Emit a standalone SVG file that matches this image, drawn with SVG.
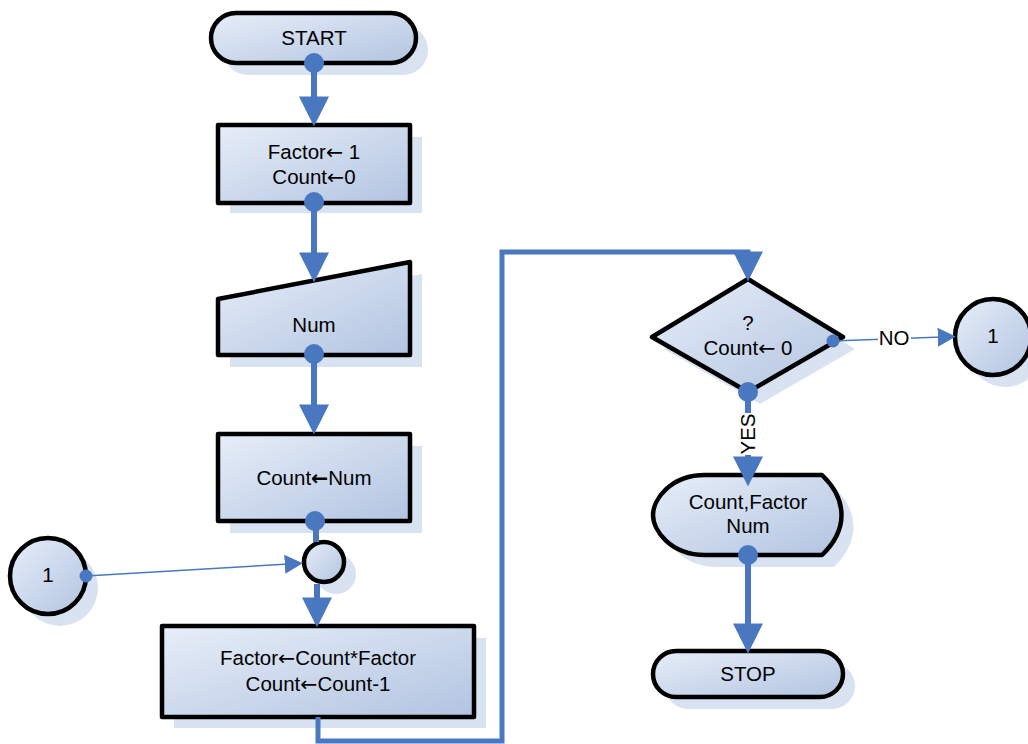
<svg xmlns="http://www.w3.org/2000/svg" width="1028" height="744" viewBox="0 0 1028 744">
<defs>
<linearGradient id="g" x1="0" y1="0" x2="1" y2="1">
<stop offset="0" stop-color="#e7eef8"/>
<stop offset="1" stop-color="#b2c4e1"/>
</linearGradient>
<marker id="ab" markerUnits="userSpaceOnUse" markerWidth="30" markerHeight="30" viewBox="0 0 28 28" refX="8" refY="14" orient="auto">
<path d="M0,0 L28,14 L0,28 Z" fill="#4a78c0"/>
</marker>
<marker id="at" markerUnits="userSpaceOnUse" markerWidth="18" markerHeight="20" viewBox="0 0 17 18" refX="4" refY="9" orient="auto">
<path d="M0,0 L17,9 L0,18 Z" fill="#4a78c0"/>
</marker>
<style>
.sh{fill:#d9e2f1}
.nd{fill:url(#g);stroke:#000;stroke-width:4.5;stroke-linejoin:round}
.t{font-family:"Liberation Sans","DejaVu Sans",Arial,sans-serif;font-size:20.5px;fill:#000;text-anchor:middle}
.ar{font-family:"DejaVu Sans",sans-serif}
.arb{font-family:"DejaVu Sans",sans-serif;font-weight:bold}
.c{fill:none;stroke:#4a78c0;stroke-width:6}
.cl{fill:none;stroke:#4a78c0;stroke-width:5}
.ct{fill:none;stroke:#4a78c0;stroke-width:1.5}
.dot{fill:#4a78c0}
</style>
</defs>

<g id="start">
<rect class="sh" x="223" y="25" width="205" height="50" rx="25"/>
<rect class="nd" x="211" y="13" width="205" height="50" rx="25"/>
<text class="t" x="314" y="45">START</text>
</g>

<g id="init">
<rect class="sh" x="230" y="137" width="192" height="76"/>
<rect class="nd" x="218" y="125" width="192" height="78"/>
<text class="t" x="314" y="159">Factor<tspan class="ar">←</tspan> 1</text>
<text class="t" x="314" y="184">Count<tspan class="ar">←</tspan>0</text>
</g>

<g id="input">
<polygon class="sh" points="230,311 422,274 422,367 230,367"/>
<polygon class="nd" points="218,299 410,262 410,355 218,355"/>
<text class="t" x="314" y="332">Num</text>
</g>

<g id="assign">
<rect class="sh" x="230" y="446" width="192" height="87"/>
<rect class="nd" x="218" y="434" width="192" height="87"/>
<text class="t" x="314" y="485">Count<tspan class="arb">←</tspan>Num</text>
</g>

<g id="join">
<circle class="sh" cx="336" cy="574" r="20"/>
<circle class="nd" cx="324" cy="562" r="20"/>
</g>

<g id="conn-left">
<circle class="sh" cx="60" cy="588" r="38"/>
<circle class="nd" cx="48" cy="576" r="38"/>
<text class="t" x="48" y="582">1</text>
</g>

<g id="loop">
<rect class="sh" x="174" y="638" width="312" height="90"/>
<rect class="nd" x="162" y="626" width="312" height="91"/>
<text class="t" x="318" y="665">Factor<tspan class="ar">←</tspan>Count*Factor</text>
<text class="t" x="318" y="691">Count<tspan class="ar">←</tspan>Count-1</text>
</g>

<g id="decision">
<polygon class="sh" points="664,349 760,291 855,349 760,404"/>
<polygon class="nd" points="652,337 748,279 843,337 748,392"/>
<text class="t" x="748" y="330">?</text>
<text class="t" x="748" y="355">Count<tspan class="ar">←</tspan> 0</text>
</g>

<g id="conn-right">
<circle class="sh" cx="1005" cy="349" r="38"/>
<circle class="nd" cx="993" cy="337" r="38"/>
<text class="t" x="993" y="343">1</text>
</g>

<g id="display">
<path class="sh" d="M717,487 L834,487 C860,512 860,542 834,567 L717,567 C682,567 665,542 665,527 C665,512 682,487 717,487 Z"/>
<path class="nd" d="M705,475 L822,475 C848,500 848,530 822,555 L705,555 C670,555 653,530 653,515 C653,500 670,475 705,475 Z"/>
<text class="t" x="748" y="509">Count,Factor</text>
<text class="t" x="748" y="533">Num</text>
</g>

<g id="stop">
<rect class="sh" x="665" y="663" width="190" height="46" rx="23"/>
<rect class="nd" x="653" y="651" width="190" height="46" rx="23"/>
<text class="t" x="748" y="681">STOP</text>
</g>

<g id="connectors">
<line class="c" x1="314" y1="63" x2="314" y2="105" marker-end="url(#ab)"/>
<circle class="dot" cx="314" cy="63" r="10"/>
<line class="c" x1="314" y1="202" x2="314" y2="261" marker-end="url(#ab)"/>
<circle class="dot" cx="314" cy="202" r="10"/>
<line class="c" x1="314" y1="354" x2="314" y2="413" marker-end="url(#ab)"/>
<circle class="dot" cx="314" cy="354" r="10"/>
<line class="c" x1="316" y1="521" x2="316" y2="542"/>
<circle class="dot" cx="315" cy="521" r="10"/>
<line class="c" x1="317" y1="584" x2="317" y2="606" marker-end="url(#ab)"/>
<line class="ct" x1="86" y1="576" x2="289" y2="564" marker-end="url(#at)"/>
<circle class="dot" cx="86" cy="576" r="6.5"/>
<polyline class="cl" points="318,717 318,741 502,741 502,252 748,252 748,260" marker-end="url(#ab)"/>
<line class="c" x1="748" y1="392" x2="748" y2="465" marker-end="url(#ab)"/>
<circle class="dot" cx="748" cy="392" r="10"/>
<rect x="739" y="413" width="19" height="42" fill="#fff"/>
<text class="t" transform="translate(755,434) rotate(-90)">YES</text>
<line class="ct" x1="833" y1="341" x2="942" y2="337" marker-end="url(#at)"/>
<circle class="dot" cx="833" cy="341" r="6.5"/>
<rect x="878" y="329" width="33" height="20" fill="#fff"/>
<text class="t" x="894" y="345">NO</text>
<line class="c" x1="748" y1="555" x2="748" y2="632" marker-end="url(#ab)"/>
<circle class="dot" cx="748" cy="555" r="10"/>
</g>
</svg>
